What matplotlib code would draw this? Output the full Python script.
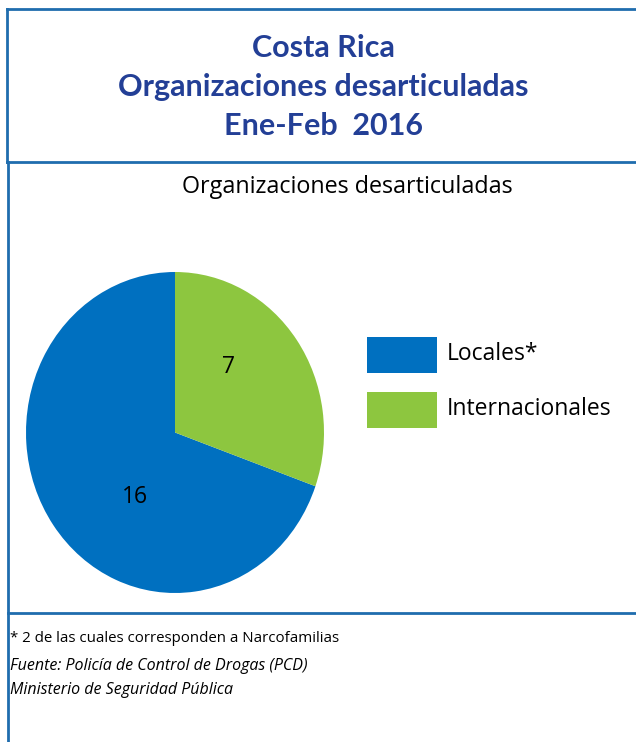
import matplotlib
matplotlib.use("Agg")
import matplotlib.pyplot as plt
from matplotlib.lines import Line2D
from matplotlib.patches import Rectangle

W, H = 636, 742

title_lines = ["Costa Rica", "Organizaciones desarticuladas", "Ene-Feb  2016"]
chart_title = "Organizaciones desarticuladas"
categories = ["Locales*", "Internacionales"]
values = [16, 7]
colors = ["#0070C0", "#8DC63F"]
footnote = "* 2 de las cuales corresponden a Narcofamilias"
source = ["Fuente: Policía de Control de Drogas (PCD)", "Ministerio de Seguridad Pública"]

border = "#1F6DAE"
title_color = "#233F96"
body_font = "Open Sans"

fig = plt.figure(figsize=(W / 100, H / 100), dpi=100)


def fx(px):
    return px / W


def fy(py):
    return 1 - py / H


# frame lines
for (x0, y0, x1, y1) in [(7, 9, 640, 9), (7, 9, 7, 162), (7, 162, 640, 162),
                         (8, 162, 8, 742), (8, 613, 640, 613)]:
    fig.add_artist(Line2D([fx(x0), fx(x1)], [fy(y0), fy(y1)], color=border, lw=2.0,
                          transform=fig.transFigure))

# title block
for txt, y in zip(title_lines, [48, 87, 126]):
    fig.text(fx(323), fy(y), txt, ha="center", va="center", fontsize=22,
             fontweight="bold", family="Lato", color=title_color)

fig.text(fx(347), fy(187), chart_title, ha="center", va="center", fontsize=16.8,
         family=body_font, color="black")

# pie (stretched slightly taller than wide, as in the source)
ax = fig.add_axes([fx(26), fy(593), fx(324) - fx(26), fy(272) - fy(593)])
wedges, _ = ax.pie(values, colors=colors, startangle=90, counterclock=True,
                   radius=1, wedgeprops=dict(linewidth=0))
ax.set_aspect("auto")
ax.set_xlim(-1, 1)
ax.set_ylim(-1, 1)
ax.axis("off")

# value labels
label_pos = [(-0.27, -0.40), (0.36, 0.41)]
for v, (lx, ly) in zip(values, label_pos):
    ax.text(lx, ly, str(v), ha="center", va="center", fontsize=16.5,
            family=body_font, color="black")

# legend
for i, (cat, col) in enumerate(zip(categories, colors)):
    top = 337 + i * 55
    fig.add_artist(Rectangle((fx(367), fy(top + 36)), fx(437) - fx(367), fy(top) - fy(top + 36),
                             facecolor=col, edgecolor="none", transform=fig.transFigure))
    fig.text(fx(447), fy(top + 17), cat, ha="left", va="center", fontsize=16.5,
             family=body_font, color="black")

# notes
fig.text(fx(10), fy(638), footnote, ha="left", va="center", fontsize=10.8,
         family=body_font, color="black")
for txt, y in zip(source, [666, 690]):
    fig.text(fx(10), fy(y), txt, ha="left", va="center", fontsize=11.5,
             family=body_font, style="italic", color="black")

fig.savefig("out.png", dpi=100)
